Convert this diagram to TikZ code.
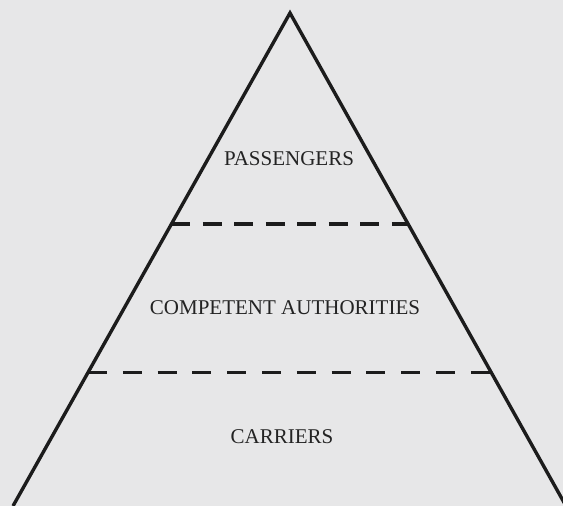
\documentclass[tikz,border=0pt]{standalone}
\usepackage{fontspec}
\setmainfont{Liberation Serif}
\usetikzlibrary{calc}
\definecolor{paper}{RGB}{231,231,232}
\definecolor{ink}{RGB}{28,28,28}
\definecolor{lettering}{RGB}{35,35,35}
\tikzset{
  edge/.style={draw=ink, line width=3.4pt, line join=miter},
  tierline/.style={draw=ink, line width=3.8pt},
  tierlabel/.style={font=\fontsize{21}{23}\selectfont, text=lettering, inner sep=0pt, anchor=center}
}
\begin{document}
\begin{tikzpicture}[x=1pt, y=-1pt]
  \fill[paper] (0,0) rectangle (563,506);
  \useasboundingbox (0,0) rectangle (563,506);
  \clip (0,0) rectangle (563,506);
  % pyramid outline
  \coordinate (apex) at (290,13);
  \coordinate (baseL) at (13,506);
  \coordinate (baseR) at (566,506);
  \draw[edge] (baseL) -- (apex) -- (baseR);
  % tier boundaries
  \coordinate (t1L) at ($(apex)!0.428!(baseL)$);
  \coordinate (t1R) at ($(apex)!0.428!(baseR)$);
  \coordinate (t2L) at ($(apex)!0.729!(baseL)$);
  \coordinate (t2R) at ($(apex)!0.729!(baseR)$);
  \draw[tierline, dash pattern=on 19pt off 12.5pt] (t1L) -- (t1R);
  \draw[tierline, dash pattern=on 19pt off 15.8pt] (t2L) -- (t2R);
  % tier labels
  \node[tierlabel] (pass) at (289,158.5) {PASSENGERS};
  \node[tierlabel] (auth) at (285,308) {COMPETENT AUTHORITIES};
  \node[tierlabel] (carr) at (282,436.5) {CARRIERS};
\end{tikzpicture}
\end{document}
